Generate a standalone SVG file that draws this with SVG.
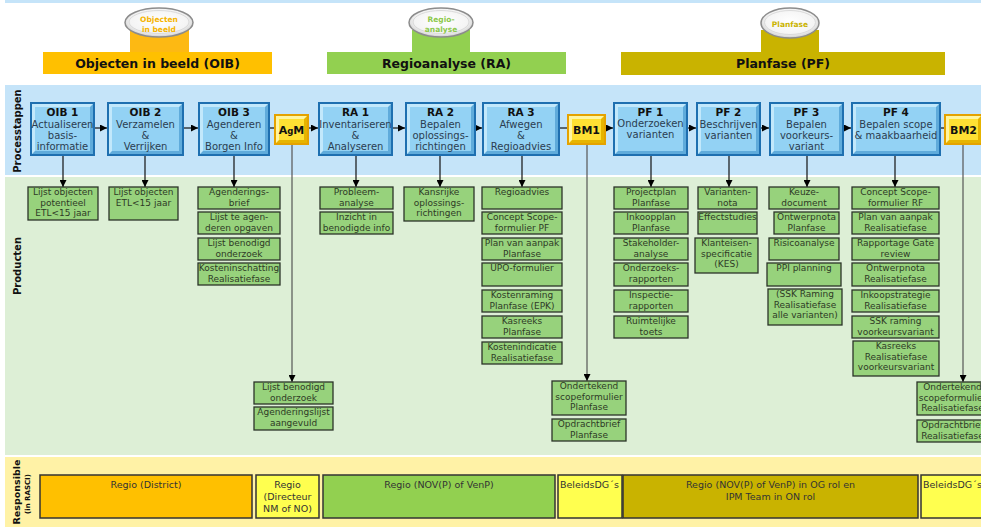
<svg xmlns="http://www.w3.org/2000/svg" width="981" height="527" viewBox="0 0 981 527">
<defs>
<style>
.pbout{fill:#1E6FB0}.pbhi{fill:#C2E8FB}.pblo{fill:#5FABDB}.pbface{fill:#93D2F4}
.gtout{fill:#E5A200}.gthi{fill:#FFF5A0}.gtlo{fill:#E6B400}.gtface{fill:#FFE033}
.ttl{font-family:"DejaVu Sans",Verdana,sans-serif;font-size:10.5px;font-weight:bold;fill:#111;text-anchor:middle}
.bdy{font-family:"DejaVu Sans",Verdana,sans-serif;font-size:10px;fill:#2B3D50;text-anchor:middle}
.gtt{font-family:"DejaVu Sans",Verdana,sans-serif;font-size:11px;font-weight:bold;fill:#111;text-anchor:middle}
.prod rect{fill:#97D27C;stroke:#2C3328;stroke-width:1.3}
.prod text{font-family:"DejaVu Sans",Verdana,sans-serif;font-size:9px;fill:#2E3A26;text-anchor:middle}
.hdr{font-family:"DejaVu Sans",Verdana,sans-serif;font-size:12.5px;font-weight:bold;fill:#111;text-anchor:middle}
.tab{font-family:"DejaVu Sans",Verdana,sans-serif;font-size:7.5px;font-weight:bold;text-anchor:middle}
.side{font-family:"DejaVu Sans",Verdana,sans-serif;font-size:10px;font-weight:bold;fill:#111;text-anchor:middle}
.resp rect{stroke:#333;stroke-width:1.5}
.resp text{font-family:"DejaVu Sans",Verdana,sans-serif;font-size:9.5px;fill:#333;text-anchor:middle}
.cn{stroke:#111;stroke-width:1.2;fill:none}
.cg{stroke:#555;stroke-width:1.2;fill:none}
</style>
<radialGradient id="eg" cx="50%" cy="45%" r="60%">
<stop offset="0" stop-color="#FFFFFF"/><stop offset="0.7" stop-color="#F4F4F4"/><stop offset="1" stop-color="#BDBDBD"/>
</radialGradient>
<marker id="ah" viewBox="0 0 8 8" refX="8" refY="4" markerWidth="7" markerHeight="7" markerUnits="userSpaceOnUse" orient="auto"><path d="M0,0 L8,4 L0,8 z" fill="#000"/></marker>
</defs>

<!-- backgrounds -->
<rect x="0" y="0" width="981" height="527" fill="#FFFFFF"/>
<rect x="5" y="0" width="976" height="3" fill="#C5E4F9"/>
<rect x="5" y="85" width="976" height="90" fill="#C5E4F9"/>
<rect x="5" y="177" width="976" height="278" fill="#DDEFD6"/>
<rect x="5" y="457" width="976" height="70" fill="#FFF2A6"/>

<text class="side" transform="translate(21,131) rotate(-90)">Processtappen</text>
<text class="side" transform="translate(21,266) rotate(-90)">Producten</text>
<text class="side" style="font-size:9.5px" transform="translate(20,492) rotate(-90)">Responsible</text>
<text class="side" style="font-size:7px" transform="translate(30,494) rotate(-90)">(in RASCI)</text>

<!-- phase headers -->
<g id="hdr-oib">
<rect x="130" y="30" width="59" height="24" fill="#FDB913"/>
<ellipse cx="159" cy="22.5" rx="34" ry="14.5" fill="url(#eg)" stroke="#8C8C8C" stroke-width="1.5"/>
<ellipse cx="159" cy="22" rx="30" ry="11.5" fill="none" stroke="#DADADA" stroke-width="1"/>
<text class="tab" x="159" y="21.5" fill="#F5B400">Objecten</text>
<text class="tab" x="159" y="31.5" fill="#F5B400">in beeld</text>
<rect x="43" y="52" width="229" height="22" fill="#FFC000"/>
<text class="hdr" x="157.5" y="67.5">Objecten in beeld (OIB)</text>
</g>
<g id="hdr-ra">
<rect x="412" y="30" width="58" height="24" fill="#92D050"/>
<ellipse cx="441" cy="22.5" rx="32" ry="14.5" fill="url(#eg)" stroke="#8C8C8C" stroke-width="1.5"/>
<ellipse cx="441" cy="22" rx="28" ry="11.5" fill="none" stroke="#DADADA" stroke-width="1"/>
<text class="tab" x="441" y="21.5" fill="#8CC84B">Regio-</text>
<text class="tab" x="441" y="31.5" fill="#8CC84B">analyse</text>
<rect x="327" y="52" width="239" height="22" fill="#92D050"/>
<text class="hdr" x="446.5" y="67.5">Regioanalyse (RA)</text>
</g>
<g id="hdr-pf">
<rect x="761" y="30" width="58" height="24" fill="#C9B300"/>
<ellipse cx="790" cy="23" rx="29" ry="15" fill="url(#eg)" stroke="#8C8C8C" stroke-width="1.5"/>
<ellipse cx="790" cy="22.5" rx="25.5" ry="12" fill="none" stroke="#DADADA" stroke-width="1"/>
<text class="tab" x="790" y="26.5" fill="#C9B300">Planfase</text>
<rect x="621" y="52" width="324" height="23" fill="#C9B300"/>
<text class="hdr" x="783" y="68">Planfase (PF)</text>
</g>

<!-- connectors -->
<g id="connectors">
<line class="cn" x1="95" y1="128" x2="107" y2="128" marker-end="url(#ah)"/>
<line class="cn" x1="184" y1="128" x2="198" y2="128" marker-end="url(#ah)"/>
<line class="cn" x1="270" y1="128" x2="274" y2="128"/>
<line class="cn" x1="309" y1="128" x2="318" y2="128" marker-end="url(#ah)"/>
<line class="cn" x1="393" y1="128" x2="405" y2="128" marker-end="url(#ah)"/>
<line class="cn" x1="476" y1="128" x2="482" y2="128" marker-end="url(#ah)"/>
<line class="cn" x1="560" y1="128" x2="567" y2="128"/>
<line class="cn" x1="606" y1="128" x2="613" y2="128" marker-end="url(#ah)"/>
<line class="cn" x1="688" y1="128" x2="696" y2="128" marker-end="url(#ah)"/>
<line class="cn" x1="761" y1="128" x2="769" y2="128" marker-end="url(#ah)"/>
<line class="cn" x1="844" y1="128" x2="851" y2="128" marker-end="url(#ah)"/>
<line class="cn" x1="941" y1="128" x2="944" y2="128"/>
<line class="cn" x1="63" y1="156" x2="63" y2="187" marker-end="url(#ah)"/>
<line class="cn" x1="145" y1="156" x2="145" y2="187" marker-end="url(#ah)"/>
<line class="cn" x1="234" y1="156" x2="234" y2="187" marker-end="url(#ah)"/>
<line class="cn" x1="356" y1="156" x2="356" y2="187" marker-end="url(#ah)"/>
<line class="cn" x1="440" y1="156" x2="440" y2="187" marker-end="url(#ah)"/>
<line class="cn" x1="522" y1="156" x2="522" y2="187" marker-end="url(#ah)"/>
<line class="cn" x1="651" y1="156" x2="651" y2="187" marker-end="url(#ah)"/>
<line class="cn" x1="729" y1="156" x2="729" y2="187" marker-end="url(#ah)"/>
<line class="cn" x1="807" y1="156" x2="807" y2="187" marker-end="url(#ah)"/>
<line class="cn" x1="895" y1="156" x2="895" y2="187" marker-end="url(#ah)"/>
<line class="cg" x1="292" y1="145" x2="292" y2="382" marker-end="url(#ah)"/>
<line class="cg" x1="587" y1="145" x2="587" y2="381" marker-end="url(#ah)"/>
<line class="cg" x1="963" y1="145" x2="963" y2="382" marker-end="url(#ah)"/>
</g>

<!-- process steps -->
<g id="oib1" transform="translate(30,102)">
<rect class="pbout" width="65" height="54"/><rect class="pbhi" x="2" y="2" width="61" height="50"/>
<polygon class="pblo" points="63,2 63,52 2,52 5,49 60,49 60,5"/><rect class="pbface" x="5" y="5" width="55" height="44"/>
<text class="ttl" x="32.5" y="14">OIB 1</text>
<text class="bdy" x="32.5" y="26">Actualiseren</text><text class="bdy" x="32.5" y="37">basis-</text><text class="bdy" x="32.5" y="48">informatie</text>
</g>
<g id="oib2" transform="translate(107,102)">
<rect class="pbout" width="77" height="54"/><rect class="pbhi" x="2" y="2" width="73" height="50"/>
<polygon class="pblo" points="75,2 75,52 2,52 5,49 72,49 72,5"/><rect class="pbface" x="5" y="5" width="67" height="44"/>
<text class="ttl" x="38.5" y="14">OIB 2</text>
<text class="bdy" x="38.5" y="26">Verzamelen</text><text class="bdy" x="38.5" y="37">&amp;</text><text class="bdy" x="38.5" y="48">Verrijken</text>
</g>
<g id="oib3" transform="translate(198,102)">
<rect class="pbout" width="72" height="54"/><rect class="pbhi" x="2" y="2" width="68" height="50"/>
<polygon class="pblo" points="70,2 70,52 2,52 5,49 67,49 67,5"/><rect class="pbface" x="5" y="5" width="62" height="44"/>
<text class="ttl" x="36" y="14">OIB 3</text>
<text class="bdy" x="36" y="26">Agenderen</text><text class="bdy" x="36" y="37">&amp;</text><text class="bdy" x="36" y="48">Borgen Info</text>
</g>
<g id="agm" transform="translate(274,114)">
<rect class="gtout" width="35" height="31"/><rect class="gthi" x="2" y="2" width="31" height="27"/>
<polygon class="gtlo" points="33,2 33,29 2,29 5,26 30,26 30,5"/><rect class="gtface" x="5" y="5" width="25" height="21"/>
<text class="gtt" x="17.5" y="20">A<tspan style="font-size:8.5px">g</tspan>M</text>
</g>
<g id="ra1" transform="translate(318,102)">
<rect class="pbout" width="75" height="54"/><rect class="pbhi" x="2" y="2" width="71" height="50"/>
<polygon class="pblo" points="73,2 73,52 2,52 5,49 70,49 70,5"/><rect class="pbface" x="5" y="5" width="65" height="44"/>
<text class="ttl" x="37.5" y="14">RA 1</text>
<text class="bdy" x="37.5" y="26">Inventariseren</text><text class="bdy" x="37.5" y="37">&amp;</text><text class="bdy" x="37.5" y="48">Analyseren</text>
</g>
<g id="ra2" transform="translate(405,102)">
<rect class="pbout" width="71" height="54"/><rect class="pbhi" x="2" y="2" width="67" height="50"/>
<polygon class="pblo" points="69,2 69,52 2,52 5,49 66,49 66,5"/><rect class="pbface" x="5" y="5" width="61" height="44"/>
<text class="ttl" x="35.5" y="14">RA 2</text>
<text class="bdy" x="35.5" y="26">Bepalen</text><text class="bdy" x="35.5" y="37">oplossings-</text><text class="bdy" x="35.5" y="48">richtingen</text>
</g>
<g id="ra3" transform="translate(482,102)">
<rect class="pbout" width="78" height="54"/><rect class="pbhi" x="2" y="2" width="74" height="50"/>
<polygon class="pblo" points="76,2 76,52 2,52 5,49 73,49 73,5"/><rect class="pbface" x="5" y="5" width="68" height="44"/>
<text class="ttl" x="39" y="14">RA 3</text>
<text class="bdy" x="39" y="26">Afwegen</text><text class="bdy" x="39" y="37">&amp;</text><text class="bdy" x="39" y="48">Regioadvies</text>
</g>
<g id="bm1" transform="translate(567,114)">
<rect class="gtout" width="39" height="31"/><rect class="gthi" x="2" y="2" width="35" height="27"/>
<polygon class="gtlo" points="37,2 37,29 2,29 5,26 34,26 34,5"/><rect class="gtface" x="5" y="5" width="29" height="21"/>
<text class="gtt" x="19.5" y="20">BM1</text>
</g>
<g id="pf1" transform="translate(613,102)">
<rect class="pbout" width="75" height="54"/><rect class="pbhi" x="2" y="2" width="71" height="50"/>
<polygon class="pblo" points="73,2 73,52 2,52 5,49 70,49 70,5"/><rect class="pbface" x="5" y="5" width="65" height="44"/>
<text class="ttl" x="37.5" y="14">PF 1</text>
<text class="bdy" x="37.5" y="25">Onderzoeken</text><text class="bdy" x="37.5" y="35.5">varianten</text>
</g>
<g id="pf2" transform="translate(696,102)">
<rect class="pbout" width="65" height="54"/><rect class="pbhi" x="2" y="2" width="61" height="50"/>
<polygon class="pblo" points="63,2 63,52 2,52 5,49 60,49 60,5"/><rect class="pbface" x="5" y="5" width="55" height="44"/>
<text class="ttl" x="32.5" y="14">PF 2</text>
<text class="bdy" x="32.5" y="26">Beschrijven</text><text class="bdy" x="32.5" y="36.5">varianten</text>
</g>
<g id="pf3" transform="translate(769,102)">
<rect class="pbout" width="75" height="54"/><rect class="pbhi" x="2" y="2" width="71" height="50"/>
<polygon class="pblo" points="73,2 73,52 2,52 5,49 70,49 70,5"/><rect class="pbface" x="5" y="5" width="65" height="44"/>
<text class="ttl" x="37.5" y="14">PF 3</text>
<text class="bdy" x="37.5" y="26">Bepalen</text><text class="bdy" x="37.5" y="37">voorkeurs-</text><text class="bdy" x="37.5" y="48">variant</text>
</g>
<g id="pf4" transform="translate(851,102)">
<rect class="pbout" width="90" height="54"/><rect class="pbhi" x="2" y="2" width="86" height="50"/>
<polygon class="pblo" points="88,2 88,52 2,52 5,49 85,49 85,5"/><rect class="pbface" x="5" y="5" width="80" height="44"/>
<text class="ttl" x="45" y="14">PF 4</text>
<text class="bdy" x="45" y="26">Bepalen scope</text><text class="bdy" x="45" y="36.5">&amp; maakbaarheid</text>
</g>
<g id="bm2" transform="translate(944,114)">
<rect class="gtout" width="39" height="31"/><rect class="gthi" x="2" y="2" width="35" height="27"/>
<polygon class="gtlo" points="37,2 37,29 2,29 5,26 34,26 34,5"/><rect class="gtface" x="5" y="5" width="29" height="21"/>
<text class="gtt" x="19.5" y="20">BM2</text>
</g>

<!-- products -->
<g id="prod-oib1" class="prod"><rect x="28" y="187" width="70" height="33"/><text x="63" y="195">Lijst objecten</text><text x="63" y="205.5">potentieel</text><text x="63" y="216">ETL&lt;15 jaar</text></g>
<g id="prod-oib2" class="prod"><rect x="109" y="187" width="69" height="33"/><text x="143.5" y="195">Lijst objecten</text><text x="143.5" y="205.5">ETL&lt;15 jaar</text></g>
<g id="prod-oib3" class="prod">
<rect x="198" y="187" width="82" height="22"/><text x="239" y="195">Agenderings-</text><text x="239" y="205.5">brief</text>
<rect x="198" y="212" width="82" height="22"/><text x="239" y="220">Lijst te agen-</text><text x="239" y="230.5">deren opgaven</text>
<rect x="198" y="238" width="82" height="22"/><text x="239" y="246">Lijst benodigd</text><text x="239" y="256.5">onderzoek</text>
<rect x="198" y="263" width="82" height="22"/><text x="239" y="271">Kosteninschatting</text><text x="239" y="281.5">Realisatiefase</text>
</g>
<g id="prod-agm" class="prod">
<rect x="254" y="382" width="79" height="22"/><text x="293.5" y="390">Lijst benodigd</text><text x="293.5" y="400.5">onderzoek</text>
<rect x="254" y="407" width="79" height="23"/><text x="293.5" y="415">Agenderingslijst</text><text x="293.5" y="425.5">aangevuld</text>
</g>
<g id="prod-ra1" class="prod">
<rect x="320" y="187" width="73" height="22"/><text x="356.5" y="195">Probleem-</text><text x="356.5" y="205.5">analyse</text>
<rect x="320" y="212" width="73" height="22"/><text x="356.5" y="220">Inzicht in</text><text x="356.5" y="230.5">benodigde info</text>
</g>
<g id="prod-ra2" class="prod"><rect x="404" y="187" width="70" height="34"/><text x="439" y="195">Kansrijke</text><text x="439" y="205.5">oplossings-</text><text x="439" y="216">richtingen</text></g>
<g id="prod-ra3" class="prod">
<rect x="482" y="187" width="80" height="22"/><text x="522" y="195">Regioadvies</text>
<rect x="482" y="212" width="80" height="22"/><text x="522" y="220">Concept Scope-</text><text x="522" y="230.5">formulier PF</text>
<rect x="482" y="238" width="80" height="22"/><text x="522" y="246">Plan van aanpak</text><text x="522" y="256.5">Planfase</text>
<rect x="482" y="263" width="80" height="23"/><text x="522" y="271">UPO-formulier</text>
<rect x="482" y="290" width="80" height="22"/><text x="522" y="298">Kostenraming</text><text x="522" y="308.5">Planfase (EPK)</text>
<rect x="482" y="316" width="80" height="22"/><text x="522" y="324">Kasreeks</text><text x="522" y="334.5">Planfase</text>
<rect x="482" y="342" width="80" height="22"/><text x="522" y="350">Kostenindicatie</text><text x="522" y="360.5">Realisatiefase</text>
</g>
<g id="prod-bm1" class="prod">
<rect x="552" y="381" width="74" height="34"/><text x="589" y="389">Ondertekend</text><text x="589" y="399.5">scopeformulier</text><text x="589" y="410">Planfase</text>
<rect x="552" y="419" width="74" height="22"/><text x="589" y="427">Opdrachtbrief</text><text x="589" y="437.5">Planfase</text>
</g>
<g id="prod-pf1" class="prod">
<rect x="614" y="187" width="74" height="22"/><text x="651" y="195">Projectplan</text><text x="651" y="205.5">Planfase</text>
<rect x="614" y="212" width="74" height="22"/><text x="651" y="220">Inkoopplan</text><text x="651" y="230.5">Planfase</text>
<rect x="614" y="238" width="74" height="22"/><text x="651" y="246">Stakeholder-</text><text x="651" y="256.5">analyse</text>
<rect x="614" y="263" width="74" height="23"/><text x="651" y="271">Onderzoeks-</text><text x="651" y="281.5">rapporten</text>
<rect x="614" y="290" width="74" height="22"/><text x="651" y="298">Inspectie-</text><text x="651" y="308.5">rapporten</text>
<rect x="614" y="316" width="74" height="22"/><text x="651" y="324">Ruimtelijke</text><text x="651" y="334.5">toets</text>
</g>
<g id="prod-pf2" class="prod">
<rect x="698" y="187" width="59" height="22"/><text x="727.5" y="195">Varianten-</text><text x="727.5" y="205.5">nota</text>
<rect x="698" y="212" width="59" height="22"/><text x="727.5" y="220">Effectstudies</text>
<rect x="695" y="238" width="63" height="35"/><text x="726.5" y="246">Klanteisen-</text><text x="726.5" y="256.5">specificatie</text><text x="726.5" y="267">(KES)</text>
</g>
<g id="prod-pf3" class="prod">
<rect x="769" y="187" width="70" height="22"/><text x="804" y="195">Keuze-</text><text x="804" y="205.5">document</text>
<rect x="774" y="212" width="65" height="22"/><text x="806.5" y="220">Ontwerpnota</text><text x="806.5" y="230.5">Planfase</text>
<rect x="769" y="238" width="70" height="22"/><text x="804" y="246">Risicoanalyse</text>
<rect x="767" y="263" width="74" height="23"/><text x="804" y="271">PPI planning</text>
<rect x="768" y="289" width="74" height="36"/><text x="805" y="297">(SSK Raming</text><text x="805" y="307.5">Realisatiefase</text><text x="805" y="318">alle varianten)</text>
</g>
<g id="prod-pf4" class="prod">
<rect x="852" y="187" width="87" height="22"/><text x="895.5" y="195">Concept Scope-</text><text x="895.5" y="205.5">formulier RF</text>
<rect x="852" y="212" width="87" height="22"/><text x="895.5" y="220">Plan van aanpak</text><text x="895.5" y="230.5">Realisatiefase</text>
<rect x="852" y="238" width="87" height="22"/><text x="895.5" y="246">Rapportage Gate</text><text x="895.5" y="256.5">review</text>
<rect x="852" y="263" width="87" height="23"/><text x="895.5" y="271">Ontwerpnota</text><text x="895.5" y="281.5">Realisatiefase</text>
<rect x="852" y="290" width="87" height="22"/><text x="895.5" y="298">Inkoopstrategie</text><text x="895.5" y="308.5">Realisatiefase</text>
<rect x="852" y="316" width="87" height="22"/><text x="895.5" y="324">SSK raming</text><text x="895.5" y="334.5">voorkeursvariant</text>
<rect x="853" y="341" width="86" height="35"/><text x="896" y="349">Kasreeks</text><text x="896" y="359.5">Realisatiefase</text><text x="896" y="370">voorkeursvariant</text>
</g>
<g id="prod-bm2" class="prod">
<rect x="917" y="382" width="71" height="33"/><text x="952.5" y="390">Ondertekend</text><text x="952.5" y="400.5">scopeformulier</text><text x="952.5" y="411">Realisatiefase</text>
<rect x="917" y="420" width="71" height="22"/><text x="952.5" y="428">Opdrachtbrief</text><text x="952.5" y="438.5">Realisatiefase</text>
</g>

<!-- responsible -->
<g id="resp-district" class="resp"><rect x="40" y="475" width="212" height="43" fill="#FFC000"/><text x="146" y="488">Regio (District)</text></g>
<g id="resp-directeur" class="resp"><rect x="256" y="475" width="63" height="43" fill="#FFFF4F"/><text x="287.5" y="488">Regio</text><text x="287.5" y="500">(Directeur</text><text x="287.5" y="512">NM of NO)</text></g>
<g id="resp-nov" class="resp"><rect x="323" y="475" width="232" height="43" fill="#92D050"/><text x="439" y="488">Regio (NOV(P) of VenP)</text></g>
<g id="resp-dg1" class="resp"><rect x="558" y="475" width="64" height="43" fill="#FFFF4F"/><text x="560" y="488" style="text-anchor:start">BeleidsDG´s</text></g>
<g id="resp-pf" class="resp"><rect x="623" y="475" width="295" height="43" fill="#C9B300"/><text x="770.5" y="488">Regio (NOV(P) of VenP) in OG rol en</text><text x="770.5" y="500">IPM Team in ON rol</text></g>
<g id="resp-dg2" class="resp"><rect x="921" y="475" width="70" height="43" fill="#FFFF4F"/><text x="923" y="488" style="text-anchor:start">BeleidsDG´s</text></g>
</svg>
